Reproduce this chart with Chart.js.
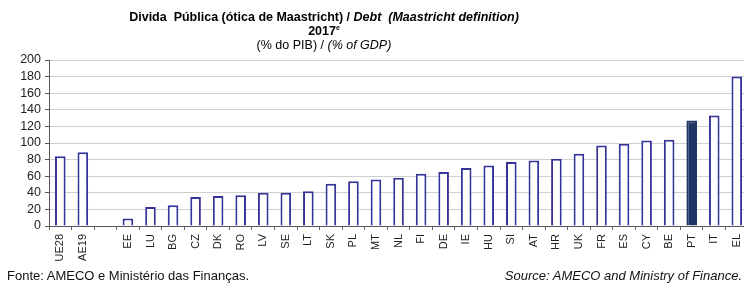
<!DOCTYPE html>
<html>
<head>
<meta charset="utf-8">
<script src="https://cdn.jsdelivr.net/npm/chart.js@4.4.1/dist/chart.umd.min.js"></script>
<style>
  body { margin: 0; background: #fff; }
  #caixa { position: relative; width: 744px; height: 283px; font-family: "Liberation Sans", Arial, sans-serif; color: #000; overflow: hidden; }
  #grafico { position: absolute; left: 0; top: 0; }
  .titulo { position: absolute; left: 324px; transform: translateX(-50%); white-space: nowrap; font-size: 12.5px; line-height: 14px; }
  .rodape { position: absolute; top: 268px; font-size: 13px; line-height: 15px; white-space: nowrap; color: #111; }
</style>
</head>
<body>
<div id="caixa">
  <canvas id="grafico" width="754" height="283"></canvas>
  <div class="titulo" style="top:10px;font-weight:bold;">Divida&nbsp; Pública (ótica de Maastricht) / <i>Debt&nbsp; (Maastricht definition)</i></div>
  <div class="titulo" style="top:24px;font-weight:bold;">2017<sup style="font-size:7px;line-height:0;">e</sup></div>
  <div class="titulo" style="top:38px;">(% do PIB) / <i>(% of GDP)</i></div>
  <div class="rodape" style="left:7px;">Fonte: AMECO e Ministério das Finanças.</div>
  <div class="rodape" style="right:2px;font-style:italic;">Source: AMECO and Ministry of Finance.</div>
</div>
<script>
// paises ordenados pela divida (o espaço vazio separa os agregados)
const paises = ['UE28', 'AE19', '', 'EE', 'LU', 'BG', 'CZ', 'DK', 'RO', 'LV', 'SE', 'LT', 'SK', 'PL', 'MT',
  'NL', 'FI', 'DE', 'IE', 'HU', 'SI', 'AT', 'HR', 'UK', 'FR', 'ES', 'CY', 'BE', 'PT', 'IT', 'EL'];
const divida = [84, 89, null, 9, 23, 25, 35, 36, 37, 40, 40, 42, 51, 54, 56,
  58, 63, 65, 70, 73, 77, 79, 81, 87, 97, 99, 103, 104, 127, 133, 180];
const ticksY = [0, 20, 40, 60, 80, 100, 120, 140, 160, 180, 200];

const corBorda = '#34349a';
const corPT = '#1f3564';

const grafico = document.getElementById('grafico');

// o canvas é um pouco mais largo que a caixa: no original o eixo continua para lá da margem direita
const graficoDivida = new Chart(grafico, {
  type: 'bar',
  data: {
    labels: paises,
    datasets: [{
      data: divida,
      backgroundColor: paises.map(p => p === 'PT' ? corPT : '#ffffff'),
      borderColor: paises.map(p => p === 'PT' ? corPT : corBorda),
      borderWidth: 2,
      borderSkipped: 'bottom',
      barPercentage: 0.47,
      categoryPercentage: 1
    }]
  },
  options: {
    responsive: false,
    animation: false,
    layout: { padding: { top: 60, bottom: 19, left: 0, right: 0 } },
    plugins: { legend: { display: false }, tooltip: { enabled: false }, title: { display: false } },
    scales: {
      x: {
        afterFit: (escala) => { escala.height = 38; },
        grid: { display: true, drawOnChartArea: false, drawTicks: true, tickLength: 4, color: '#666' },
        border: { display: true, color: '#555', width: 1 },
        ticks: {
          autoSkip: false, minRotation: 90, maxRotation: 90, padding: 4,
          color: '#222', font: { family: 'Liberation Sans', size: 11 }
        }
      },
      y: {
        min: 0, max: 200,
        afterFit: (escala) => { escala.width = 49; },
        afterBuildTicks: (escala) => { escala.ticks = ticksY.map(v => ({ value: v })); },
        grid: {
          color: '#d0d0d0', borderDash: [1, 2], lineWidth: 1,
          tickLength: 4, tickColor: '#555', tickBorderDash: []
        },
        border: { display: true, color: '#555', width: 1 },
        ticks: { autoSkip: false, padding: 4, color: '#222', font: { family: 'Liberation Sans', size: 12.5 } }
      }
    }
  }
});
</script>
</body>
</html>
